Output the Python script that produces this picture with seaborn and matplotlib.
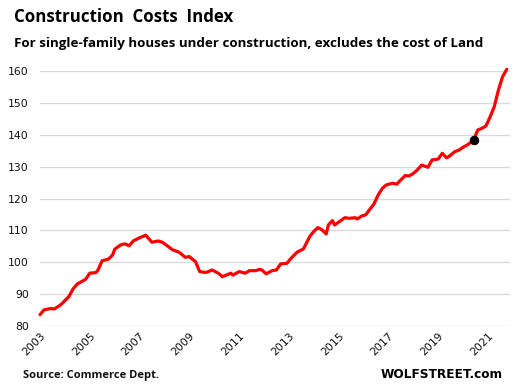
import pandas as pd
import matplotlib.pyplot as plt
import matplotlib.dates as mdates
import seaborn as sns


# ---------------- DATA ---------------- #

DATES = [
    "2003-01", "2003-03", "2003-06", "2003-08", "2003-11",
    "2004-03", "2004-05", "2004-07", "2004-11",
    "2005-01", "2005-04", "2005-05", "2005-07", "2005-10", "2005-12",
    "2006-01", "2006-04", "2006-06", "2006-08", "2006-10",
    "2007-01", "2007-04", "2007-07", "2007-10", "2007-12",
    "2008-03", "2008-05", "2008-08", "2008-11",
    "2009-01", "2009-04", "2009-06", "2009-09", "2009-12",
    "2010-03", "2010-05", "2010-09", "2010-10",
    "2011-01", "2011-04", "2011-06", "2011-09", "2011-11", "2011-12",
    "2012-02", "2012-05", "2012-07", "2012-09", "2012-12",
    "2013-02", "2013-05", "2013-08", "2013-09", "2013-11",
    "2014-01", "2014-03", "2014-05", "2014-07", "2014-08", "2014-10", "2014-11",
    "2015-02", "2015-04", "2015-06", "2015-09", "2015-10", "2015-12",
    "2016-02", "2016-04", "2016-06", "2016-08", "2016-10", "2016-12",
    "2017-03", "2017-05", "2017-09", "2017-11",
    "2018-01", "2018-03", "2018-05", "2018-08", "2018-10",
    "2019-01", "2019-03", "2019-05", "2019-06", "2019-09", "2019-11",
    "2020-01", "2020-03", "2020-04", "2020-06", "2020-08", "2020-10", "2020-12",
    "2021-02", "2021-04", "2021-06", "2021-08", "2021-10",
]

INDEX = [
    83.6, 85.1, 85.5, 85.4, 86.7,
    89.3, 91.7, 93.2, 94.7,
    96.6, 96.8, 97.6, 100.5, 101.0, 102.3,
    104.1, 105.5, 105.8, 105.2, 106.7,
    107.7, 108.5, 106.3, 106.7, 106.3,
    104.9, 103.9, 103.2, 101.6,
    101.8, 100.2, 97.1, 96.8, 97.6,
    96.6, 95.5, 96.6, 96.0,
    97.1, 96.6, 97.4, 97.4, 97.8, 97.6,
    96.4, 97.4, 97.6, 99.5, 99.7,
    101.3, 103.2, 104.2, 105.5, 108.1,
    109.7, 110.9, 110.2, 108.9, 111.7, 113.1, 111.7,
    113.1, 114.0, 113.8, 114.0, 113.6, 114.5,
    114.9, 116.6, 118.3, 121.1, 123.2, 124.3,
    124.8, 124.5, 127.2, 127.1,
    127.9, 129.0, 130.5, 129.8, 132.1,
    132.4, 134.2, 132.8, 133.1, 134.7, 135.2,
    136.1, 136.8, 137.3, 138.2, 141.5, 142.0, 142.8,
    145.7, 148.8, 154.0, 158.2, 160.5,
]

MARK_DATE = "2020-06"
MARK_VALUE = 138.2

Y_TICKS = [80, 90, 100, 110, 120, 130, 140, 150, 160]
X_TICK_YEARS = [2003, 2005, 2007, 2009, 2011, 2013, 2015, 2017, 2019, 2021]

df = pd.DataFrame({"date": pd.to_datetime(DATES), "index": INDEX})
mark = pd.DataFrame({"date": pd.to_datetime([MARK_DATE]), "index": [MARK_VALUE]})


# ---------------- PLOT ---------------- #

sns.set_style("whitegrid", {"grid.color": "#d9d9d9"})
plt.rcParams["font.family"] = ["DejaVu Sans"]

fig = plt.figure(figsize=(5.16, 3.92), dpi=100)
ax = fig.add_axes([0.0775, 0.168, 0.9105, 0.651])

sns.lineplot(data=df, x="date", y="index", ax=ax, color="#ff0000",
             linewidth=2.3, clip_on=False)
sns.scatterplot(data=mark, x="date", y="index", ax=ax, color="black",
                s=40, edgecolor="black", zorder=5, clip_on=False)

ax.set_ylim(80, 160)
ax.set_xlim(pd.Timestamp("2003-01-01"), pd.Timestamp("2021-11-15"))
ax.set_yticks(Y_TICKS)
ax.set_xticks([pd.Timestamp(f"{y}-01-01") for y in X_TICK_YEARS])
ax.xaxis.set_major_formatter(mdates.DateFormatter("%Y"))
ax.grid(axis="x", visible=False)
ax.grid(axis="y", color="#d9d9d9", linewidth=0.9)

for s in ax.spines.values():
    s.set_visible(False)

ax.tick_params(axis="y", length=0, pad=8, labelsize=7.8, labelcolor="#111111")
ax.tick_params(axis="x", length=0, pad=3, labelsize=7.8, labelcolor="#111111")
for lbl in ax.get_xticklabels():
    lbl.set_rotation(45)
    lbl.set_ha("right")
    lbl.set_rotation_mode("anchor")

ax.set_xlabel("")
ax.set_ylabel("")

fig.text(0.027, 0.944, "Construction  Costs  Index", fontsize=12.2,
         fontweight="bold", family=["Open Sans", "DejaVu Sans"],
         color="black", va="baseline")
fig.text(0.027, 0.88, "For single-family houses under construction, excludes the cost of Land",
         fontsize=9.6, fontweight="bold", family=["Open Sans", "DejaVu Sans"],
         color="black", va="baseline")
fig.text(0.044, 0.035, "Source: Commerce Dept.", fontsize=8.0, fontweight="bold",
         family=["Open Sans", "DejaVu Sans"], color="#111111", va="baseline")
fig.text(0.975, 0.035, "WOLFSTREET.com", fontsize=8.7, fontweight="bold",
         family=["DejaVu Sans"], color="black", ha="right", va="baseline")

fig.savefig("out.png", dpi=100)
plt.close(fig)
